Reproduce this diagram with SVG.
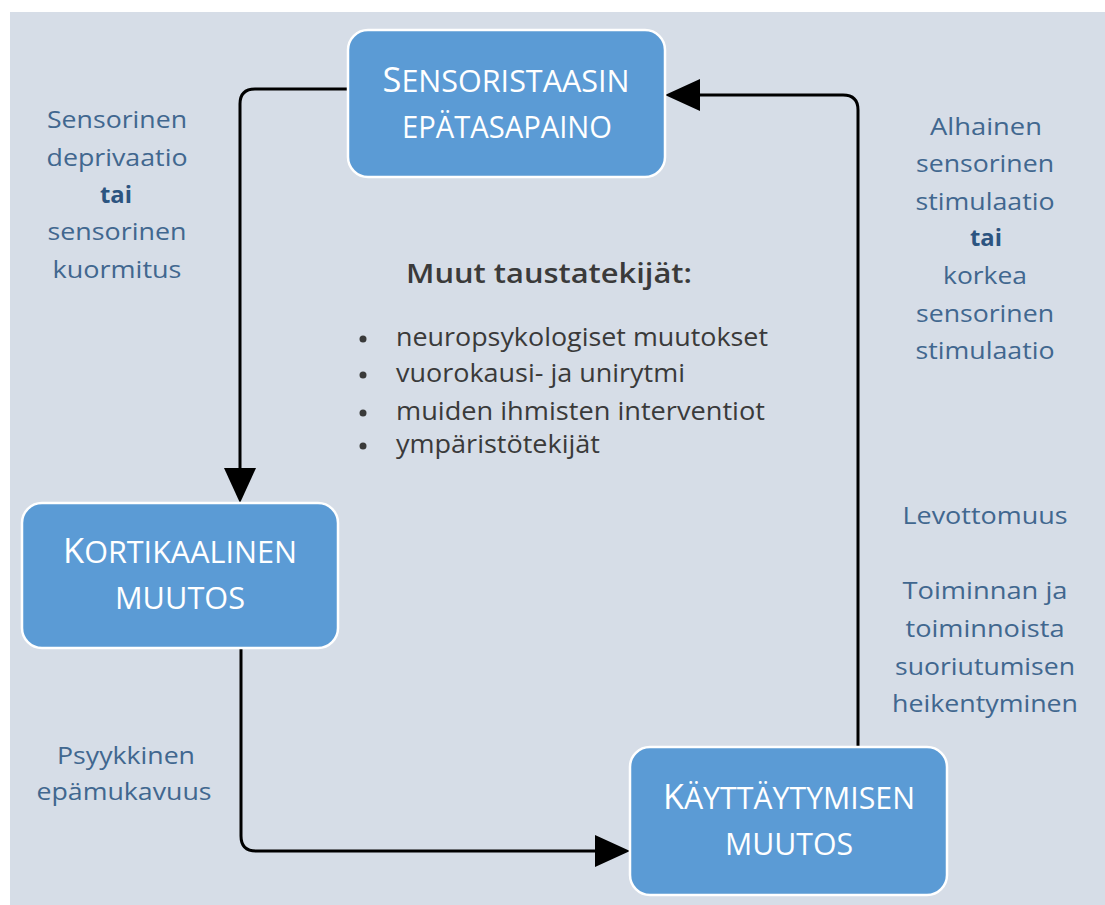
<svg xmlns="http://www.w3.org/2000/svg" width="1105" height="905" viewBox="0 0 1105 905">
<defs>
<style>
.node{fill:#5b9bd5;stroke:#ffffff;stroke-width:2.5}
.nt{font-family:"Open Sans","Liberation Sans",sans-serif;fill:#ffffff;text-anchor:middle}
.big{font-size:35px}
.sm{font-size:31px}
.lbl{font-family:"Open Sans","Liberation Sans",sans-serif;font-size:24px;fill:#41678f;text-anchor:middle}
.b{font-weight:bold;fill:#2c5480}
.mid{font-family:"Open Sans","Liberation Sans",sans-serif;fill:#3a3a3a}
.conn{fill:none;stroke:#000000;stroke-width:3}
</style>
<marker id="ah" markerUnits="userSpaceOnUse" viewBox="0 0 35 32" markerWidth="35" markerHeight="32" refX="0" refY="16" orient="auto">
<path d="M0,0 L35,16 L0,32 z" fill="#000000"/>
</marker>
</defs>
<rect x="10" y="12" width="1095" height="893" fill="#d6dde7"/>
<g id="connectors">
<path class="conn" d="M348,89 H255 Q240,89 240,104 V468" marker-end="url(#ah)"/>
<path class="conn" d="M241,643 V836 Q241,851 256,851 H595" marker-end="url(#ah)"/>
<path class="conn" d="M858,747 V110 Q858,95 843,95 H700" marker-end="url(#ah)"/>
</g>
<g id="node-sensoristaasin">
<rect class="node" x="348" y="30" width="317" height="147" rx="20"/>
<text class="nt" x="506" y="92" textLength="247" lengthAdjust="spacingAndGlyphs"><tspan class="big">S</tspan><tspan class="sm">ENSORISTAASIN</tspan></text>
<text class="nt sm" x="507" y="138" textLength="210" lengthAdjust="spacingAndGlyphs">EPÄTASAPAINO</text>
</g>
<g id="node-kortikaalinen">
<rect class="node" x="22" y="503" width="316" height="145" rx="20"/>
<text class="nt" x="180" y="563" textLength="234" lengthAdjust="spacingAndGlyphs"><tspan class="big">K</tspan><tspan class="sm">ORTIKAALINEN</tspan></text>
<text class="nt sm" x="180" y="609" textLength="130" lengthAdjust="spacingAndGlyphs">MUUTOS</text>
</g>
<g id="node-kayttaytymisen">
<rect class="node" x="630" y="747" width="317" height="148" rx="20"/>
<text class="nt" x="789" y="809" textLength="252" lengthAdjust="spacingAndGlyphs"><tspan class="big">K</tspan><tspan class="sm">ÄYTTÄYTYMISEN</tspan></text>
<text class="nt sm" x="789" y="855" textLength="128" lengthAdjust="spacingAndGlyphs">MUUTOS</text>
</g>
<g id="label-left">
<text class="lbl" x="117" y="128" textLength="140" lengthAdjust="spacingAndGlyphs">Sensorinen</text>
<text class="lbl" x="117" y="166" textLength="141" lengthAdjust="spacingAndGlyphs">deprivaatio</text>
<text class="lbl b" x="116" y="203" textLength="32" lengthAdjust="spacingAndGlyphs">tai</text>
<text class="lbl" x="117" y="240" textLength="139" lengthAdjust="spacingAndGlyphs">sensorinen</text>
<text class="lbl" x="117" y="278" textLength="129" lengthAdjust="spacingAndGlyphs">kuormitus</text>
</g>
<g id="label-right-top">
<text class="lbl" x="986" y="135" textLength="112" lengthAdjust="spacingAndGlyphs">Alhainen</text>
<text class="lbl" x="985" y="172" textLength="138" lengthAdjust="spacingAndGlyphs">sensorinen</text>
<text class="lbl" x="985" y="210" textLength="139" lengthAdjust="spacingAndGlyphs">stimulaatio</text>
<text class="lbl b" x="986" y="246" textLength="32" lengthAdjust="spacingAndGlyphs">tai</text>
<text class="lbl" x="985" y="284" textLength="84" lengthAdjust="spacingAndGlyphs">korkea</text>
<text class="lbl" x="985" y="322" textLength="138" lengthAdjust="spacingAndGlyphs">sensorinen</text>
<text class="lbl" x="985" y="359" textLength="139" lengthAdjust="spacingAndGlyphs">stimulaatio</text>
</g>
<g id="label-right-bottom">
<text class="lbl" x="985" y="524" textLength="165" lengthAdjust="spacingAndGlyphs">Levottomuus</text>
<text class="lbl" x="985" y="599" textLength="165" lengthAdjust="spacingAndGlyphs">Toiminnan ja</text>
<text class="lbl" x="985" y="637" textLength="159" lengthAdjust="spacingAndGlyphs">toiminnoista</text>
<text class="lbl" x="985" y="675" textLength="180" lengthAdjust="spacingAndGlyphs">suoriutumisen</text>
<text class="lbl" x="985" y="712" textLength="186" lengthAdjust="spacingAndGlyphs">heikentyminen</text>
</g>
<g id="label-left-bottom">
<text class="lbl" x="126" y="764" textLength="138" lengthAdjust="spacingAndGlyphs">Psyykkinen</text>
<text class="lbl" x="124" y="800" textLength="175" lengthAdjust="spacingAndGlyphs">epämukavuus</text>
</g>
<g id="background-factors">
<text class="mid" x="406" y="283" font-size="27" font-weight="600" textLength="286" lengthAdjust="spacingAndGlyphs">Muut taustatekijät:</text>
<g fill="#3a3a3a">
<circle cx="363" cy="339" r="3.5"/>
<circle cx="363" cy="375" r="3.5"/>
<circle cx="363" cy="413" r="3.5"/>
<circle cx="363" cy="446" r="3.5"/>
</g>
<text class="mid" x="396" y="346" font-size="25" textLength="372" lengthAdjust="spacingAndGlyphs">neuropsykologiset muutokset</text>
<text class="mid" x="396" y="382" font-size="25" textLength="289" lengthAdjust="spacingAndGlyphs">vuorokausi- ja unirytmi</text>
<text class="mid" x="396" y="420" font-size="25" textLength="369" lengthAdjust="spacingAndGlyphs">muiden ihmisten interventiot</text>
<text class="mid" x="396" y="453" font-size="25" textLength="204" lengthAdjust="spacingAndGlyphs">ympäristötekijät</text>
</g>
</svg>
